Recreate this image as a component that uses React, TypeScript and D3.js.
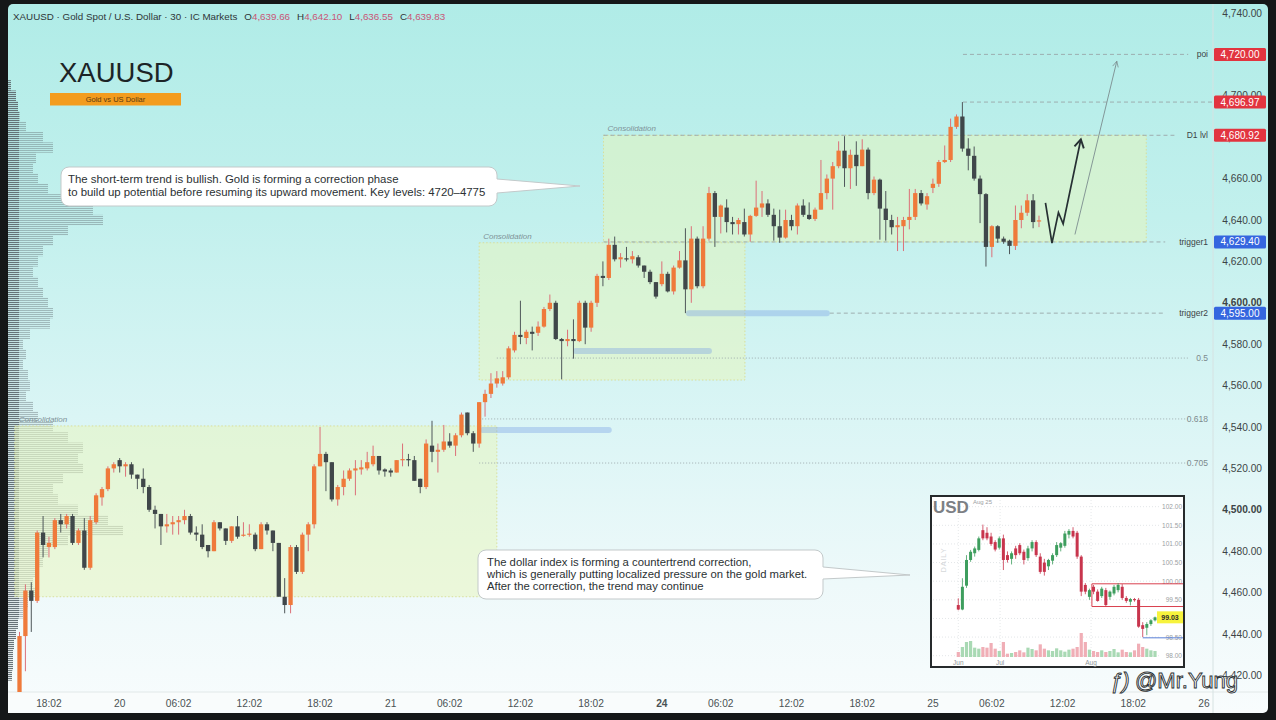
import * as d3 from 'd3';

const W = 1276;
const H = 720;

// XAUUSD 30-min candles, [open, high, low, close]
const goldCandles: [number, number, number, number][] = [
  // 0-9
  [4408, 4441, 4405, 4439], [4439, 4464, 4422, 4461], [4461, 4465, 4441, 4456], [4456, 4490, 4455, 4489], [4489, 4497, 4477, 4483],
  [4482, 4487, 4477, 4484], [4482, 4496, 4481, 4495], [4495, 4498, 4489, 4493], [4493, 4498, 4491, 4497], [4497, 4498, 4483, 4484],
  // 10-19
  [4484, 4491, 4483, 4490], [4490, 4496, 4471, 4472], [4472, 4497, 4471, 4495], [4494, 4508, 4493, 4507], [4506, 4511, 4502, 4510],
  [4510, 4521, 4509, 4520], [4520, 4523, 4518, 4522], [4524, 4525, 4518, 4521], [4521, 4523, 4516, 4522], [4522, 4523, 4515, 4517],
  // 20-29
  [4517, 4517, 4510, 4515], [4515, 4520, 4508, 4511], [4511, 4512, 4499, 4500], [4500, 4502, 4491, 4498], [4498, 4498, 4483, 4492],
  [4492, 4498, 4489, 4493], [4493, 4497, 4488, 4494], [4494, 4497, 4488, 4495], [4495, 4500, 4493, 4497], [4497, 4498, 4488, 4489],
  // 30-39
  [4489, 4492, 4485, 4488], [4488, 4493, 4481, 4482], [4483, 4483, 4477, 4480], [4480, 4495, 4480, 4494], [4494, 4494, 4490, 4491],
  [4491, 4491, 4483, 4485], [4485, 4492, 4484, 4492], [4492, 4497, 4486, 4487], [4487.5, 4494, 4487, 4488], [4488, 4493, 4487, 4488.5],
  // 40-49
  [4488, 4489, 4480, 4481], [4481, 4494, 4481, 4493], [4493, 4494, 4488, 4490], [4490, 4490, 4480, 4484], [4484, 4484, 4458, 4458],
  [4458, 4467, 4450, 4454], [4454, 4483, 4450, 4482], [4482, 4483, 4469, 4470], [4470, 4489, 4469, 4488], [4488, 4494, 4480, 4493],
  // 50-59
  [4493, 4522, 4491, 4521], [4521, 4540, 4521, 4527], [4527, 4528, 4509, 4523], [4523, 4523, 4504, 4505], [4505, 4512, 4502, 4511],
  [4511, 4519, 4507, 4515], [4515, 4520, 4514, 4519], [4519, 4524, 4507, 4520], [4519.5, 4524, 4517, 4520.5], [4520, 4528, 4519, 4523],
  // 60-69
  [4522, 4531, 4521, 4526], [4526, 4526, 4517, 4519], [4519.5, 4520, 4516, 4518.5], [4519, 4520, 4516, 4518], [4518, 4524, 4518, 4524],
  [4524, 4532, 4521, 4524.5], [4524.5, 4527, 4521, 4524], [4524, 4526, 4514, 4514], [4515, 4515, 4508, 4511], [4511, 4534, 4510, 4532],
  // 70-79
  [4531, 4543, 4523, 4528], [4528, 4532, 4518, 4529], [4529, 4541, 4528, 4533], [4533, 4537, 4530, 4531], [4531, 4537, 4526, 4536],
  [4536, 4547, 4535, 4546], [4547, 4547, 4536, 4537], [4537, 4538, 4528, 4532], [4532, 4552, 4530, 4552], [4552, 4558, 4545, 4556],
  // 80-89
  [4556, 4566, 4554, 4561], [4561, 4567, 4559, 4563.5], [4561, 4567, 4560, 4564], [4564, 4579, 4563, 4578], [4577, 4586, 4576, 4584.5],
  [4584.5, 4601, 4580, 4583.5], [4583, 4587, 4580, 4586], [4586, 4588.5, 4577, 4585], [4585.5, 4591, 4584, 4588.5], [4588.5, 4598, 4588, 4597],
  // 90-99
  [4597, 4604, 4596, 4600], [4600, 4601, 4582, 4582.5], [4582.5, 4583, 4563, 4581.5], [4581.5, 4587, 4579, 4582.5], [4582.5, 4592, 4573, 4581.5],
  [4581.5, 4601, 4581, 4600], [4600, 4601, 4580, 4588], [4588, 4601, 4586, 4600], [4600, 4614, 4598, 4613], [4613, 4620, 4608, 4612],
  // 100-109
  [4612, 4631, 4611, 4628], [4628, 4632, 4620, 4621], [4621, 4624, 4617, 4622], [4621.5, 4627, 4620, 4621], [4621, 4625, 4619, 4622.5],
  [4622, 4623, 4617, 4618], [4618, 4618, 4612, 4615], [4615, 4616, 4609, 4610], [4610, 4610, 4602, 4603], [4609, 4620, 4608, 4614],
  // 110-119
  [4614, 4615, 4605, 4605.5], [4605.5, 4618, 4604, 4617], [4617, 4625, 4616.5, 4620.5], [4620.5, 4636, 4595, 4606.5], [4606.5, 4637, 4600, 4631],
  [4631, 4632, 4607, 4608], [4608, 4637, 4607, 4631], [4631, 4656, 4630, 4653], [4653, 4654, 4627, 4641.5], [4641.5, 4647.5, 4633.5, 4647],
  // 120-129
  [4646, 4650, 4634, 4639], [4639, 4641.5, 4633, 4638], [4638, 4641, 4633, 4640], [4639, 4645.5, 4632, 4633], [4633, 4642.5, 4629.5, 4642],
  [4642, 4659, 4641.5, 4646], [4646, 4654, 4641.5, 4648], [4648, 4650, 4641.5, 4642.5], [4642.5, 4645.5, 4630, 4637], [4637, 4645, 4629, 4631.5],
  // 130-139
  [4631.5, 4645, 4631, 4640], [4640, 4642.5, 4635, 4637], [4637, 4648, 4633, 4647], [4647, 4650, 4641.5, 4642.5], [4642.5, 4648.5, 4640, 4640.5],
  [4640.5, 4646, 4639.5, 4645], [4645, 4669, 4645, 4653], [4653, 4662, 4650, 4660], [4660, 4668, 4645, 4666], [4666, 4678, 4665, 4673.5],
  // 140-149
  [4673.5, 4680.5, 4656, 4665], [4665, 4674, 4655, 4671.5], [4671.5, 4678, 4656.5, 4666], [4666, 4679, 4666, 4674], [4674, 4675, 4650, 4653],
  [4653, 4661, 4652, 4659.5], [4659.5, 4660, 4630.5, 4645.5], [4645.5, 4654, 4630, 4640], [4640, 4642.5, 4633, 4636.5], [4636.5, 4641.5, 4625, 4637.5],
  // 150-159
  [4637, 4641.5, 4625, 4640], [4640, 4655, 4635.5, 4641.5], [4641.5, 4655, 4640, 4653], [4653, 4654.5, 4647, 4648], [4647.5, 4653, 4645, 4651.5],
  [4655.5, 4660, 4653, 4657.5], [4657.5, 4669, 4656, 4668], [4668, 4676, 4667.5, 4669], [4669, 4689, 4668, 4685], [4685, 4691, 4684, 4690],
  // 160-169
  [4690, 4696.97, 4673, 4674.5], [4674.5, 4679.5, 4664, 4671], [4671, 4675.5, 4659, 4660], [4660, 4661.5, 4638.5, 4652.5], [4652.5, 4653, 4617.5, 4627],
  [4627, 4637.5, 4622, 4637], [4637, 4637.5, 4629, 4631], [4631, 4632, 4628.5, 4629.5], [4630, 4630.5, 4623.5, 4627.5], [4627.5, 4647, 4625.5, 4640],
  // 170-173
  [4640, 4647, 4636, 4643.5], [4643.5, 4652.5, 4642, 4649.5], [4649.5, 4652.5, 4636, 4639], [4639.66, 4642.1, 4636.55, 4639.83],
];

const priceTicks = [4420, 4440, 4460, 4480, 4500, 4520, 4540, 4560, 4580, 4600, 4620, 4640, 4660, 4680, 4700, 4720, 4740];
const boldPriceTicks = [4500, 4600];

const timeTickIndex = [5, 17, 27, 39, 51, 63, 73, 85, 97, 109, 119, 131, 143, 155, 165, 177, 189, 201];
const timeTickLabels = ['18:02', '20', '06:02', '12:02', '18:02', '21', '06:02', '12:02', '18:02', '24', '06:02', '12:02', '18:02', '25', '06:02', '12:02', '18:02', '26'];

// volume profile (left edge)
const profilePrices = [4705, 4700, 4695, 4690, 4685, 4680, 4675, 4670, 4665, 4660, 4655, 4650, 4645, 4640, 4635, 4630, 4625, 4620, 4615, 4610,
  4605, 4600, 4595, 4590, 4585, 4580, 4575, 4570, 4565, 4560, 4555, 4550, 4545, 4540, 4535, 4530, 4525, 4520, 4515, 4510,
  4505, 4500, 4495, 4490, 4485, 4480, 4475, 4470, 4465, 4460, 4455, 4450, 4445, 4440, 4435, 4430, 4425, 4420];
const profileVolume = [3, 8, 10, 12, 18, 35, 45, 28, 25, 30, 40, 60, 85, 95, 60, 45, 35, 30, 25, 30,
  35, 40, 45, 42, 22, 15, 18, 15, 20, 22, 18, 25, 30, 45, 60, 75, 70, 75, 55, 45,
  50, 70, 100, 115, 60, 40, 35, 30, 25, 30, 20, 15, 10, 8, 6, 5, 5, 4];

// consolidation zones: [fromIndex, toIndex, top, bottom]
const zones: [number, number, number, number][] = [
  [-0.8, 81, 4540.5, 4458],
  [78, 123.1, 4629, 4562.7],
  [99.1, 191.2, 4680.92, 4629.4],
];

// horizontal levels
const levelNames = ['poi', '', 'D1 lvl', 'trigger1', 'trigger2'];
const levelPrices = [4720, 4696.97, 4680.92, 4629.4, 4595];
const levelFrom = [160.1, 160.1, 99.1, 99.1, 137.5];
const levelTagBlue = [false, false, false, true, true];

const fibNames = ['0.5', '0.618', '0.705'];
const fibPrices = [4573.3, 4543.9, 4522.6];
const fibFrom = [81, 78, 78];

// highlighted liquidity bars: [fromIndex, toIndex, price]
const liquidityBars: [number, number, number][] = [
  [93.9, 117.5, 4576.7],
  [78.1, 100.5, 4538.5],
  [113.1, 137.5, 4595],
];

// projected path
const zigzagIdx = [174.1, 175.2, 176.3, 177.1, 180.1];
const zigzagPrice = [4648.3, 4628.8, 4643.6, 4638.1, 4679];
const targetIdx = [179.1, 186.2];
const targetPrice = [4633, 4716.7];

// DXY daily inset: [open, high, low, close]
const usdCandles: [number, number, number, number][] = [
  [99.36, 99.54, 99.22, 99.24], [99.24, 100.08, 99.22, 99.85], [99.88, 100.7, 99.82, 100.57], [100.57, 100.84, 100.52, 100.79],
  [100.75, 100.93, 100.66, 100.88], [100.84, 101.2, 100.8, 101.15], [101.37, 101.52, 101.1, 101.15], [101.3, 101.45, 101.1, 101.15],
  [101.2, 101.3, 100.95, 101.0], [101.05, 101.1, 100.8, 100.85], [100.9, 101.2, 100.85, 101.15], [101.15, 101.25, 100.3, 100.57],
  [100.7, 100.8, 100.5, 100.57], [100.6, 100.8, 100.45, 100.75], [100.88, 100.95, 100.6, 100.7], [100.97, 101.02, 100.7, 100.75],
  [100.79, 100.85, 100.45, 100.57], [100.62, 100.95, 100.55, 100.88], [100.88, 101.1, 100.8, 101.05], [101.05, 101.1, 100.65, 100.7],
  [100.66, 100.75, 100.2, 100.25], [100.5, 100.6, 100.15, 100.25], [100.4, 100.6, 100.3, 100.57], [100.55, 100.75, 100.45, 100.7],
  [100.7, 101.05, 100.65, 100.97], [100.9, 101.05, 100.8, 101.02], [100.95, 101.35, 100.9, 101.28], [101.25, 101.4, 101.15, 101.35],
  [101.35, 101.45, 101.15, 101.2], [101.3, 101.35, 100.6, 100.66], [100.66, 100.7, 99.6, 99.72], [99.9, 99.95, 99.65, 99.72],
  [99.58, 99.8, 99.5, 99.76], [99.85, 99.9, 99.65, 99.72], [99.72, 99.78, 99.45, 99.47], [99.6, 99.85, 99.55, 99.8],
  [99.76, 99.82, 99.33, 99.36], [99.58, 99.75, 99.5, 99.72], [99.67, 99.9, 99.62, 99.85], [99.76, 99.95, 99.7, 99.9],
  [99.85, 99.92, 99.5, 99.55], [99.55, 99.6, 99.42, 99.47], [99.45, 99.55, 99.35, 99.52], [99.52, 99.55, 99.45, 99.49],
  [99.5, 99.55, 98.75, 98.78], [98.82, 98.9, 98.5, 98.72], [98.75, 98.9, 98.55, 98.85], [98.85, 98.98, 98.8, 98.95],
  [98.95, 99.05, 98.92, 99.03],
];
const usdVolume = [15, 30, 45, 48, 28, 25, 30, 28, 42, 25, 18, 45, 10, 12, 15, 20, 14, 28, 24, 20,
  38, 25, 20, 18, 26, 20, 16, 22, 25, 30, 72, 45, 22, 18, 15, 20, 15, 18, 24, 14,
  22, 15, 14, 20, 40, 30, 25, 20, 18];
const usdTicks = [98.0, 98.5, 99.0, 99.5, 100.0, 100.5, 101.0, 101.5, 102.0];
const usdHiddenTick = 99.0; // covered by the last-price tag
const usdMonthIdx = [0, 10.2, 32.4];
const usdMonthLabels = ['Jun', 'Jul', 'Aug'];
const usdLast = 99.03;
const usdBoxTop = 99.93;
const usdBoxBottom = 99.32;
const usdSupport = 98.48;

const FONT = "'Liberation Sans', Arial, Helvetica, sans-serif";
const UP = '#ef7a3b';
const UP_WICK = '#dc6f78';
const DN = '#40474a';
const DN_WICK = '#4f575a';

function callout(x0: number, y0: number, x1: number, y1: number, r: number, t0: number, t1: number, tx: number, ty: number) {
  return `M${x0 + r},${y0} H${x1 - r} A${r},${r} 0 0 1 ${x1},${y0 + r} V${t0} L${tx},${ty} L${x1},${t1} V${y1 - r} A${r},${r} 0 0 1 ${x1 - r},${y1} H${x0 + r} A${r},${r} 0 0 1 ${x0},${y1 - r} V${y0 + r} A${r},${r} 0 0 1 ${x0 + r},${y0} Z`;
}

export default function App() {
  const plotL = 8, plotR = 1213, plotT = 4, plotB = 692;
  const x = d3.scaleLinear().domain([0, 201]).range([19.5, 1204]);
  const y = d3.scaleLinear().domain([4420, 4740]).range([675.4, 13]);
  const bw = 4.3;

  const profW = d3.scaleLinear().domain([0, 115]).range([0, 115]);

  // inset scales
  const ix = d3.scaleLinear().domain([0, 48]).range([958.3, 1155]);
  const iy = d3.scaleLinear().domain([98, 102]).range([655.7, 506.7]);
  const iv = d3.scaleLinear().domain([0, 75]).range([0, 25]);

  const zig = d3.line<number>().x((d) => x(d)).y((_, i) => y(zigzagPrice[i]));
  const tgt = d3.line<number>().x((d) => x(d)).y((_, i) => y(targetPrice[i]));

  const fmt = d3.format(',.2f');

  return (
    <svg width={W} height={H} viewBox={`0 0 ${W} ${H}`} style={{ position: 'absolute', left: 0, top: 0, display: 'block' }} fontFamily={FONT}>
      <defs>
        <linearGradient id="bg" x1="0" y1="0" x2="0" y2="1">
          <stop offset="0" stopColor="#b0ece7" />
          <stop offset="0.3" stopColor="#c2f0ed" />
          <stop offset="0.58" stopColor="#daf5f5" />
          <stop offset="0.82" stopColor="#eef9fa" />
          <stop offset="1" stopColor="#f8fcfd" />
        </linearGradient>
        <clipPath id="plot">
          <rect x={plotL} y={plotT} width={plotR - plotL} height={plotB - plotT} />
        </clipPath>
        <pattern id="stripes" width="6" height="2" patternUnits="userSpaceOnUse">
          <rect width="6" height="1.1" fill="#5f6b70" />
        </pattern>
        <marker id="headDark" viewBox="0 0 10 10" refX="8" refY="5" markerWidth="7" markerHeight="7" orient="auto">
          <path d="M1,1 L8,5 L1,9" fill="none" stroke="#263033" strokeWidth="1.6" />
        </marker>
        <marker id="headGray" viewBox="0 0 10 10" refX="8" refY="5" markerWidth="9" markerHeight="9" orient="auto">
          <path d="M1,1.5 L8,5 L1,8.5" fill="none" stroke="#7c8c8f" strokeWidth="0.9" />
        </marker>
      </defs>

      {/* screen frame */}
      <rect width={W} height={H} fill="#151718" />
      <rect x={plotL} y={plotT} width={1268 - plotL} height={713 - plotT} rx={5} fill="url(#bg)" />
      <rect x={plotL} y={plotB} width={plotR - plotL} height={713 - plotB} fill="#f9fcfc" />
      <line x1={plotL} x2={1268} y1={plotB} y2={plotB} stroke="#e2e8e8" />
      <line x1={plotR} x2={plotR} y1={plotT} y2={713} stroke="#d6e2e2" />

      <g clipPath="url(#plot)">
        {/* volume profile */}
        {profilePrices.map((p, i) => {
          const y0 = y(p + 2.5), y1 = y(p - 2.5);
          const w = profW(profileVolume[i]);
          return (
            <g key={i}>
              <rect x={plotL} y={y0} width={w} height={y1 - y0} fill="url(#stripes)" opacity={0.42} />
              <rect x={plotL} y={y0} width={Math.min(w, 11)} height={y1 - y0} fill="url(#stripes)" opacity={0.9} />
            </g>
          );
        })}

        {/* consolidation zones */}
        {zones.map(([a, b, top, bot], i) => (
          <g key={i}>
            <rect x={x(a)} y={y(top)} width={x(b) - x(a)} height={y(bot) - y(top)} fill="rgba(232,246,186,0.5)" stroke="#d9df9a" strokeWidth={1} strokeDasharray="1.5,2" />
            <text x={x(a) + 4} y={y(top) - 4} fontSize={8} fontStyle="italic" fill="#7f9399">Consolidation</text>
          </g>
        ))}

        {/* fib levels */}
        {fibNames.map((n, i) => (
          <g key={n}>
            <line x1={x(fibFrom[i])} x2={1188} y1={y(fibPrices[i])} y2={y(fibPrices[i])} stroke="#9aa7aa" strokeWidth={0.9} strokeDasharray="1,2" />
            <text x={1208} y={y(fibPrices[i]) + 3} fontSize={8.5} fill="#7d8a8d" textAnchor="end">{n}</text>
          </g>
        ))}

        {/* liquidity bars */}
        {liquidityBars.map(([a, b, p], i) => (
          <rect key={i} x={x(a)} y={y(p) - 3} width={x(b) - x(a)} height={6} rx={3} fill="rgba(120,160,230,0.38)" />
        ))}

        {/* key levels */}
        {levelPrices.map((p, i) => {
          const labelW = levelNames[i].length * 4.6;
          const end = levelNames[i] ? 1206 - labelW - 4 : plotR;
          return (
            <g key={i}>
              <line x1={x(levelFrom[i])} x2={end} y1={y(p)} y2={y(p)} stroke="#9aa6a8" strokeWidth={0.9} strokeDasharray="4,3" />
              {levelNames[i] && (
                <text x={1208} y={y(p) + 3} fontSize={8.5} fill="#3c4446" textAnchor="end">{levelNames[i]}</text>
              )}
            </g>
          );
        })}

        {/* candles */}
        {goldCandles.map(([o, h, l, c], i) => {
          const up = c >= o;
          const cx = x(i);
          const top = y(Math.max(o, c));
          const bot = y(Math.min(o, c));
          return (
            <g key={i}>
              <line x1={cx} x2={cx} y1={y(h)} y2={y(l)} stroke={up ? UP_WICK : DN_WICK} strokeWidth={1} />
              <rect x={cx - bw / 2} y={top} width={bw} height={Math.max(1.2, bot - top)} fill={up ? UP : DN} />
            </g>
          );
        })}

        {/* projections */}
        <path d={tgt(targetIdx) || ''} fill="none" stroke="#7c8c8f" strokeWidth={0.9} markerEnd="url(#headGray)" />
        <path d={zig(zigzagIdx) || ''} fill="none" stroke="#263033" strokeWidth={1.7} strokeLinejoin="miter" markerEnd="url(#headDark)" />
      </g>

      {/* header */}
      <text x={13} y={20} fontSize={9.8} fill="#2f3638">
        XAUUSD · Gold Spot / U.S. Dollar · 30 · IC Markets
        <tspan dx={7}>O</tspan><tspan fill="#c95577">4,639.66</tspan>
        <tspan dx={7}>H</tspan><tspan fill="#c95577">4,642.10</tspan>
        <tspan dx={7}>L</tspan><tspan fill="#c95577">4,636.55</tspan>
        <tspan dx={7}>C</tspan><tspan fill="#c95577">4,639.83</tspan>
      </text>

      {/* title */}
      <text x={59} y={82} fontSize={27.5} fill="#1c2426">XAUUSD</text>
      <rect x={50} y={93} width={131} height={12.5} fill="#f39c1e" />
      <text x={115.5} y={102} fontSize={7.5} fill="#5a3a10" textAnchor="middle">Gold vs US Dollar</text>

      {/* callouts */}
      <path d={callout(61, 167, 497, 206, 8, 179, 193, 580, 186)} fill="#ffffff" stroke="#c3c9ca" strokeWidth={1} />
      <text fontSize={11.4} fill="#2b3133">
        <tspan x={68} y={183}>The short-term trend is bullish. Gold is forming a correction phase</tspan>
        <tspan x={68} y={196}>to build up potential before resuming its upward movement. Key levels: 4720–4775</tspan>
      </text>
      <path d={callout(478, 550, 823, 599, 8, 567, 579, 910, 575)} fill="#ffffff" stroke="#c3c9ca" strokeWidth={1} />
      <text fontSize={11.3} fill="#2b3133">
        <tspan x={487} y={566}>The dollar index is forming a countertrend correction,</tspan>
        <tspan x={487} y={578}>which is generally putting localized pressure on the gold market.</tspan>
        <tspan x={487} y={590}>After the correction, the trend may continue</tspan>
      </text>

      {/* DXY inset */}
      <g>
        <rect x={931} y={496} width={253} height={171} fill="#ffffff" stroke="#262a2c" strokeWidth={2} />
        {usdTicks.map((t) => (
          <g key={t}>
            <line x1={933} x2={1160} y1={iy(t)} y2={iy(t)} stroke="#e3e6e8" strokeDasharray="1,2" />
            {t !== usdHiddenTick && (
              <text x={1182} y={iy(t) + 2.5} fontSize={6.5} fill="#9aa0a4" textAnchor="end">{t.toFixed(2)}</text>
            )}
          </g>
        ))}
        {usdMonthIdx.map((m, i) => (
          <g key={i}>
            <line x1={ix(m)} x2={ix(m)} y1={500} y2={658} stroke="#e6e9ea" strokeDasharray="1,2" />
            <text x={ix(m)} y={665} fontSize={6.5} fill="#8d9599" textAnchor="middle">{usdMonthLabels[i]}</text>
          </g>
        ))}
        {usdVolume.map((v, i) => {
          const [o, , , c] = usdCandles[i];
          return <rect key={i} x={ix(i) - 1.6} y={657 - iv(v)} width={3.2} height={iv(v)} fill={c >= o ? '#a9d9b4' : '#f0aeb6'} />;
        })}
        <line x1={ix(32.6)} x2={1183} y1={iy(usdBoxTop)} y2={iy(usdBoxTop)} stroke="#d9414f" strokeWidth={1} />
        <line x1={ix(32.6)} x2={1183} y1={iy(usdBoxBottom)} y2={iy(usdBoxBottom)} stroke="#d9414f" strokeWidth={1} />
        <line x1={ix(32.6)} x2={ix(32.6)} y1={iy(usdBoxTop)} y2={iy(usdBoxBottom)} stroke="#d9414f" strokeWidth={1} />
        <line x1={ix(45)} x2={1183} y1={iy(usdSupport)} y2={iy(usdSupport)} stroke="#5a7fd6" strokeWidth={1} />
        {usdCandles.map(([o, h, l, c], i) => {
          const up = c >= o;
          const col = up ? '#3e9e5e' : '#c8354d';
          const top = iy(Math.max(o, c));
          const bot = iy(Math.min(o, c));
          return (
            <g key={i}>
              <line x1={ix(i)} x2={ix(i)} y1={iy(h)} y2={iy(l)} stroke={col} strokeWidth={0.8} />
              <rect x={ix(i) - 1.5} y={top} width={3} height={Math.max(1, bot - top)} fill={col} />
            </g>
          );
        })}
        <rect x={1157} y={iy(usdLast) - 6} width={26} height={12} fill="#f7f33c" />
        <text x={1170} y={iy(usdLast) + 2.5} fontSize={7} fontWeight="bold" fill="#2a2a2a" textAnchor="middle">{usdLast.toFixed(2)}</text>
        <text x={933} y={513} fontSize={17} fontWeight="bold" fill="#7c8084">USD</text>
        <text x={973} y={504} fontSize={6} fill="#9a9ea2">Aug 25</text>
        <text transform="translate(946,560) rotate(-90)" fontSize={7.5} fill="#d5d8da" textAnchor="middle" letterSpacing={0.8}>DAILY</text>
      </g>

      {/* price axis */}
      {priceTicks.map((t) => (
        <text key={t} x={1262} y={y(t) + 3.6} fontSize={10.2} fill="#3c4446" textAnchor="end" fontWeight={boldPriceTicks.includes(t) ? 'bold' : 'normal'}>
          {fmt(t)}
        </text>
      ))}
      {levelPrices.map((p, i) => (
        <g key={i}>
          <rect x={1214} y={y(p) - 6.5} width={52} height={13} rx={1.5} fill={levelTagBlue[i] ? '#3566df' : '#e2343f'} />
          <text x={1240} y={y(p) + 3.5} fontSize={10} fill="#ffffff" textAnchor="middle">{fmt(p)}</text>
        </g>
      ))}

      {/* time axis */}
      {timeTickIndex.map((t, i) => (
        <text key={i} x={x(t)} y={707} fontSize={10.2} fill="#4a5254" textAnchor="middle" fontWeight={timeTickLabels[i] === '24' ? 'bold' : 'normal'}>
          {timeTickLabels[i]}
        </text>
      ))}

      {/* watermark */}
      <text x={1110} y={688} fontSize={22} fill="#ffffff" stroke="#2c3133" strokeWidth={0.9} fontStyle="italic">ƒ)</text>
      <text x={1135} y={688} fontSize={22} fill="#ffffff" stroke="#2c3133" strokeWidth={0.9}>@Mr.Yung</text>
    </svg>
  );
}
